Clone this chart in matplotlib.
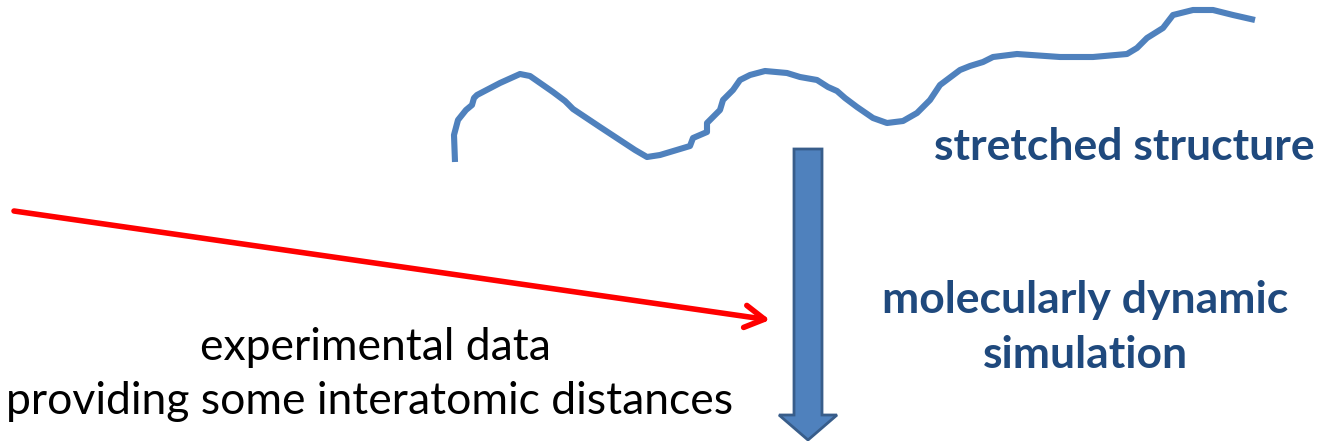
import matplotlib
matplotlib.use('Agg')
import matplotlib.pyplot as plt
from matplotlib.patches import FancyArrow

# wavy "stretched structure" trace, in pixel coords of the picture
chain_x = [455, 454, 458, 466, 472, 474, 477, 500, 520, 530, 553, 565, 573, 600, 635, 647,
           660, 690, 693, 707, 707, 720, 723, 733, 740, 750, 765, 787, 800, 817, 828, 837,
           845, 857, 873, 887, 903, 917, 930, 940, 960, 970, 983, 993, 1017, 1060, 1093,
           1127, 1137, 1147, 1163, 1173, 1193, 1213, 1233, 1255]
chain_y = [162, 135, 120, 110, 105, 98, 95, 83, 74, 76, 92, 101, 109, 127, 150, 157,
           155, 146, 138, 132, 123, 110, 100, 90, 80, 75, 71, 73, 77, 80, 87, 91,
           98, 107, 118, 123, 121, 113, 100, 85, 70, 66, 62, 57, 54, 57, 57,
           54, 48, 38, 28, 15, 10, 10, 15, 20]

# red arrow: start and tip
red_start = (14, 211)
red_tip = (770, 320)

# blue block arrow
shaft_x = 808
shaft_top = 149
shaft_w = 28
arrow_tip_y = 440
head_w = 58
head_len = 25

blue = '#4F81BD'
dark_blue = '#1F497D'

plt.rcParams['font.family'] = ['Lato', 'DejaVu Sans']
fig = plt.figure(figsize=(13.22, 4.41), dpi=100)
ax = fig.add_axes([0, 0, 1, 1])
ax.set_xlim(0, 1322)
ax.set_ylim(441, 0)
ax.axis('off')

ax.plot(chain_x, chain_y, color=blue, lw=4.4, solid_capstyle='butt', solid_joinstyle='round')

ax.annotate('', xy=red_tip, xytext=red_start,
            arrowprops=dict(arrowstyle='->,head_length=1.4,head_width=0.8',
                            color='#FF0000', lw=4, shrinkA=0, shrinkB=0))

ax.add_patch(FancyArrow(shaft_x, shaft_top, 0, arrow_tip_y - shaft_top,
                        width=shaft_w, head_width=head_w, head_length=head_len,
                        length_includes_head=True, facecolor=blue,
                        edgecolor='#385D8A', lw=2))

ax.text(1315, 147, 'stretched structure', ha='right', va='center',
        fontsize=32, fontweight='bold', color=dark_blue)
ax.text(1085, 300, 'molecularly dynamic', ha='center', va='center',
        fontsize=32, fontweight='bold', color=dark_blue)
ax.text(1085, 355, 'simulation', ha='center', va='center',
        fontsize=32, fontweight='bold', color=dark_blue)

ax.text(375, 347, 'experimental data', ha='center', va='center',
        fontsize=32, color='black')
ax.text(370, 402, 'providing some interatomic distances', ha='center', va='center',
        fontsize=32, color='black')

fig.savefig('out.png', dpi=100)
